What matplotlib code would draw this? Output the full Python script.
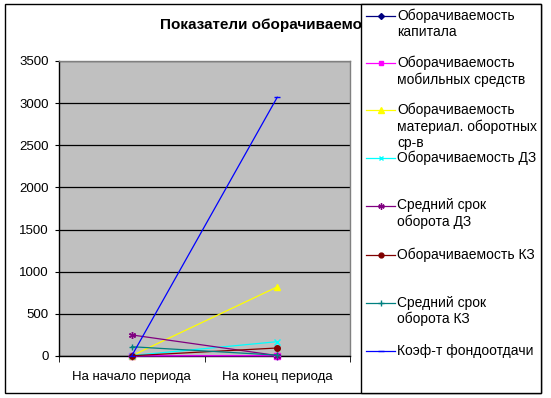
import matplotlib
matplotlib.use("Agg")
import matplotlib.pyplot as plt
from matplotlib.lines import Line2D
from matplotlib.patches import Rectangle

plt.rcParams['font.family'] = ['Liberation Sans', 'DejaVu Sans']

categories = ["На начало периода", "На конец периода"]
series_names = [
    "Оборачиваемость\nкапитала",
    "Оборачиваемость\nмобильных средств",
    "Оборачиваемость\nматериал. оборотных\nср-в",
    "Оборачиваемость ДЗ",
    "Средний срок\nоборота ДЗ",
    "Оборачиваемость КЗ",
    "Средний срок\nоборота КЗ",
    "Коэф-т фондоотдачи",
]
kapital = [2, 5]
mobil = [2, 3]
material = [3, 820]
dz = [5, 170]
srok_dz = [250, 5]
kz = [3, 95]
srok_kz = [110, 10]
fondootdacha = [2, 3070]
values = [kapital, mobil, material, dz, srok_dz, kz, srok_kz, fondootdacha]
y_ticks = [0, 500, 1000, 1500, 2000, 2500, 3000, 3500]
title = "Показатели оборачиваемости"

colors = ["#000080", "#FF00FF", "#FFFF00", "#00FFFF", "#800080", "#800000", "#008080", "#0000FF"]
markers = ["D", "s", "^", "x", (6, 2, 0), "o", "+", "_"]
msizes = [3.5, 4, 4.5, 4, 5, 4, 5, 5]

W, H = 551, 398
fig = plt.figure(figsize=(W / 100, H / 100), dpi=100)

# outer border
fig.patches.append(Rectangle((5 / W, 1 - 393 / H), 536 / W, 389 / H, transform=fig.transFigure,
                             fill=False, edgecolor="black", linewidth=1.0, zorder=0))

ax = fig.add_axes([59 / W, (H - 356) / H, 291 / W, 295 / H])
ax.set_facecolor("#C0C0C0")
x = list(range(len(categories)))
for vals, c, m, ms in zip(values, colors, markers, msizes):
    ax.plot(x, vals, color=c, marker=m, markersize=ms, linewidth=0.9,
            markeredgecolor=c, markerfacecolor=c, markeredgewidth=1.0, clip_on=False, zorder=3)

ax.set_xlim(-0.5, 1.5)
ax.set_ylim(0, 3500)
ax.set_yticks(y_ticks)
ax.set_yticklabels([str(t) for t in y_ticks], fontsize=9.5)
ax.yaxis.grid(True, color="black", linewidth=0.9)
ax.set_axisbelow(True)
ax.set_xticks(x)
ax.set_xticklabels(categories, fontsize=9.5)
ax.tick_params(axis="x", which="major", length=0, pad=11)
ax.set_xticks([-0.5, 0.5, 1.5], minor=True)
ax.tick_params(axis="x", which="minor", length=4, direction="out", color="black")
ax.tick_params(axis="y", length=3, direction="out", pad=4.5, color="black")
for s in ["top", "right"]:
    ax.spines[s].set_color("#808080")
    ax.spines[s].set_linewidth(1.0)
for s in ["left", "bottom"]:
    ax.spines[s].set_color("black")
    ax.spines[s].set_linewidth(1.0)

fig.text(160 / W, 1 - 25 / H, title, fontsize=11, fontweight="bold", ha="left", va="center", zorder=1)

# legend box (covers the title end)
fig.patches.append(Rectangle((361 / W, 1 - 393 / H), 180 / W, 389 / H, transform=fig.transFigure,
                             facecolor="white", edgecolor="black", linewidth=1.0, zorder=5))
leg_y = [16, 63, 110, 158, 206, 255, 303, 351]
for name, c, m, ms, ly in zip(series_names, colors, markers, msizes, leg_y):
    yf = 1 - ly / H
    fig.add_artist(Line2D([366 / W, 395 / W], [yf, yf], color=c, linewidth=0.9,
                          transform=fig.transFigure, zorder=6))
    fig.add_artist(Line2D([380.5 / W], [yf], color=c, marker=m, markersize=ms - 0.5,
                          markerfacecolor=c, markeredgecolor=c, linestyle="none",
                          transform=fig.transFigure, zorder=6))
    fig.text(397 / W, yf + 7.5 / H, name, fontsize=10, ha="left", va="top", linespacing=1.2,
             transform=fig.transFigure, zorder=7)

fig.savefig("out.png", dpi=100)
